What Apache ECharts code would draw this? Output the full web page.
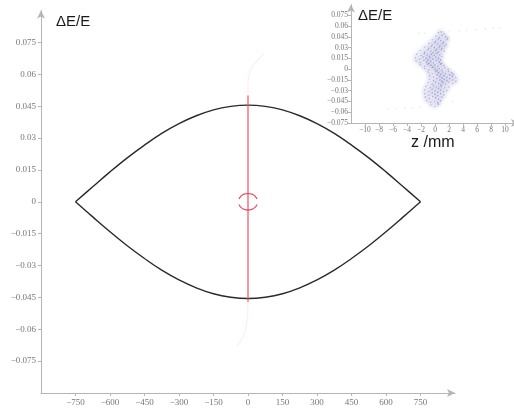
<!DOCTYPE html>
<html><head><meta charset="utf-8">
<script src="https://cdn.jsdelivr.net/npm/echarts@6/dist/echarts.min.js"></script>
<style>html,body{margin:0;padding:0;background:#fff}#c{width:514px;height:408px}</style>
</head><body><div id="c"></div><script>
// ---- tick values and labels ----
const mainXTicks = [-750,-600,-450,-300,-150,0,150,300,450,600,750];
const mainXLabels = ['−750','−600','−450','−300','−150','0','150','300','450','600','750'];
const yTicks = [-0.075,-0.06,-0.045,-0.03,-0.015,0,0.015,0.03,0.045,0.06,0.075];
const yLabels = ['−0.075','−0.06','−0.045','−0.03','−0.015','0','0.015','0.03','0.045','0.06','0.075'];
const insetXTicks = [-10,-8,-6,-4,-2,0,2,4,6,8,10];
const insetXLabels = ['−10','−8','−6','−4','−2','0','2','4','6','8','10'];

// ---- separatrix ----
const sepZ = [-750,-675,-600,-525,-450,-375,-300,-225,-150,-75,0,75,150,225,300,375,450,525,600,675,750];
const sepUpper = [0,0.0071,0.0141,0.0207,0.0267,0.0322,0.0368,0.0405,0.0433,0.0449,0.0455,0.0449,0.0433,0.0405,0.0368,0.0322,0.0267,0.0207,0.0141,0.0071,0];
const sepLower = [0,-0.0071,-0.0141,-0.0207,-0.0267,-0.0322,-0.0368,-0.0405,-0.0433,-0.0449,-0.0455,-0.0449,-0.0433,-0.0405,-0.0368,-0.0322,-0.0267,-0.0207,-0.0141,-0.0071,0];

// ---- red particle streak in main plot ----
const streakZ = [0,0];
const streakD = [0.050,-0.047];
const streakFaintZ = [70,45,20,5,0,0,0,-3,-15,-48];
const streakFaintD = [0.070,0.067,0.064,0.060,0.056,0.050,-0.047,-0.055,-0.062,-0.068];
// small ring around origin (upper and lower arcs)
const ringUpZ = [39,32,21,7,0,-7,-21,-32,-39];
const ringUpD = [0.0013,0.0025,0.0034,0.0038,0.0039,0.0038,0.0034,0.0025,0.0013];
const ringLoZ = [39,32,21,7,0,-7,-21,-32,-39];
const ringLoD = [-0.0013,-0.0025,-0.0034,-0.0038,-0.0039,-0.0038,-0.0034,-0.0025,-0.0013];

// ---- inset particle cloud (z in mm, dE/E) ----
const cloud = [
[0.5,0.051],[1.3,0.049],[0.9,0.052],
[0.1,0.046],[0.6,0.044],[1.0,0.047],[1.5,0.045],[1.8,0.043],
[-0.4,0.041],[0.1,0.039],[0.5,0.042],[0.8,0.040],[1.2,0.038],[1.7,0.041],
[-0.9,0.036],[-0.4,0.034],[0.0,0.037],[0.4,0.035],[0.7,0.033],[1.1,0.036],[1.6,0.034],
[-1.5,0.031],[-0.9,0.029],[-0.5,0.032],[-0.1,0.030],[0.2,0.028],[0.6,0.031],[1.0,0.029],[1.4,0.032],
[-2.1,0.026],[-1.5,0.024],[-1.0,0.027],[-0.6,0.025],[-0.3,0.023],[0.1,0.026],[0.5,0.024],[0.9,0.027],[1.3,0.025],
[-2.6,0.021],[-2.0,0.019],[-1.5,0.022],[-1.1,0.020],[-0.8,0.018],[-0.5,0.021],[-0.1,0.019],[0.3,0.022],[0.7,0.020],[1.0,0.018],
[-2.8,0.016],[-2.2,0.014],[-1.7,0.017],[-1.3,0.015],[-1.0,0.013],[-0.7,0.016],[-0.3,0.014],[0.1,0.017],[0.5,0.015],[0.8,0.013],
[-2.7,0.011],[-2.1,0.009],[-1.6,0.012],[-1.2,0.010],[-0.9,0.008],[-0.6,0.011],[-0.2,0.009],[0.2,0.012],[0.6,0.010],[0.9,0.008],
[-2.1,0.006],[-1.5,0.004],[-1.0,0.007],[-0.6,0.005],[-0.3,0.003],[0.0,0.006],[0.4,0.004],[0.8,0.007],[1.3,0.005],
[-1.5,0.001],[-0.9,-0.001],[-0.4,0.002],[0.0,0.000],[0.3,-0.002],[0.6,0.001],[1.0,-0.001],[1.4,0.002],[1.9,0.000],
[-1.0,-0.004],[-0.4,-0.006],[0.1,-0.003],[0.5,-0.005],[0.8,-0.007],[1.1,-0.004],[1.5,-0.006],[1.9,-0.003],[2.4,-0.005],[2.6,-0.007],
[-0.8,-0.009],[-0.2,-0.011],[0.3,-0.008],[0.7,-0.010],[1.0,-0.012],[1.3,-0.009],[1.7,-0.011],[2.1,-0.008],[2.5,-0.010],[3.0,-0.012],
[-0.8,-0.014],[-0.2,-0.016],[0.3,-0.013],[0.7,-0.015],[1.0,-0.017],[1.3,-0.014],[1.7,-0.016],[2.1,-0.013],[2.5,-0.015],[3.0,-0.017],
[-1.0,-0.019],[-0.4,-0.021],[0.1,-0.018],[0.5,-0.020],[0.8,-0.022],[1.1,-0.019],[1.5,-0.021],[1.9,-0.018],[2.5,-0.020],
[-1.3,-0.024],[-0.7,-0.026],[-0.2,-0.023],[0.2,-0.025],[0.5,-0.027],[0.9,-0.024],[1.4,-0.026],[2.0,-0.025],
[-1.5,-0.029],[-0.9,-0.031],[-0.4,-0.028],[0.0,-0.030],[0.4,-0.032],[0.8,-0.029],[1.2,-0.031],[1.7,-0.030],
[-1.5,-0.034],[-0.9,-0.036],[-0.4,-0.033],[0.0,-0.035],[0.4,-0.037],[0.8,-0.034],[1.3,-0.036],
[-1.4,-0.039],[-0.8,-0.041],[-0.3,-0.038],[0.1,-0.040],[0.5,-0.042],[1.0,-0.039],
[-1.2,-0.044],[-0.6,-0.046],[-0.1,-0.045],[0.4,-0.047],[0.8,-0.044],
[-0.6,-0.050],[0.0,-0.052],[0.5,-0.049]
];
const cloudTails = [
[-2.3,0.050],[-1.5,0.050],[2.0,0.052],[3.5,0.053],[4.5,0.054],[5.8,0.055],[7.2,0.056],[8.3,0.057],[9.2,0.058],
[-6.8,-0.055],[-5.5,-0.055],[-4.3,-0.054],[-3.2,-0.054],[-2.2,-0.053],[2.5,-0.045]
];

function pick(ticks, labels) {
  return function (v) {
    const i = ticks.findIndex(t => Math.abs(t - v) < 1e-9);
    return i >= 0 ? labels[i] : '';
  };
}
const zip = (a, b) => a.map((v, i) => [v, b[i]]);

const axisCol = '#b5b5b5';
const lblCol = '#777';
const serif = 'Liberation Serif';

function mkAxis(idx, min, max, ticks, labels, fs, margin) {
  return {
    type: 'value', gridIndex: idx, min: min, max: max,
    axisLine: {onZero: false, lineStyle: {color: axisCol, width: 1}, symbol: ['none', 'arrow'], symbolSize: [6, 8]},
    axisTick: {customValues: ticks, length: 3, lineStyle: {color: axisCol}},
    axisLabel: {customValues: ticks, formatter: pick(ticks, labels), color: lblCol, fontFamily: serif, fontSize: fs, margin: margin},
    splitLine: {show: false}
  };
}

const chart = echarts.init(document.getElementById('c'), null, {renderer: 'canvas'});
chart.setOption({
  animation: false,
  backgroundColor: '#fff',
  grid: [
    {left: 41, right: 59, top: 10.6, bottom: 15, outerBoundsMode: 'none'},
    {left: 351, width: 168, top: 4.6, bottom: 285, outerBoundsMode: 'none'}
  ],
  xAxis: [
    mkAxis(0, -900, 900, mainXTicks, mainXLabels, 9, 5),
    mkAxis(1, -12, 12, insetXTicks, insetXLabels, 7.5, 3)
  ],
  yAxis: [
    mkAxis(0, -0.09, 0.09, yTicks, yLabels, 9, 5),
    mkAxis(1, -0.075, 0.09, yTicks, yLabels, 7.5, 3)
  ],
  series: [
    {type: 'line', xAxisIndex: 0, yAxisIndex: 0, data: zip(sepZ, sepUpper), smooth: 0.4, showSymbol: false,
     lineStyle: {color: '#2a2a2a', width: 1.4}},
    {type: 'line', xAxisIndex: 0, yAxisIndex: 0, data: zip(sepZ, sepLower), smooth: 0.4, showSymbol: false,
     lineStyle: {color: '#2a2a2a', width: 1.4}},
    {type: 'line', xAxisIndex: 0, yAxisIndex: 0, data: zip(streakFaintZ, streakFaintD), smooth: 0.3, showSymbol: false,
     lineStyle: {color: 'rgba(235,90,110,0.10)', width: 1.2}},
    {type: 'line', xAxisIndex: 0, yAxisIndex: 0, data: zip(streakZ, streakD), showSymbol: false,
     lineStyle: {color: 'rgba(240,70,95,0.55)', width: 2}},
    {type: 'line', xAxisIndex: 0, yAxisIndex: 0, data: zip(ringUpZ, ringUpD), smooth: 0.5, showSymbol: false,
     lineStyle: {color: 'rgba(225,50,70,0.85)', width: 1.2}},
    {type: 'line', xAxisIndex: 0, yAxisIndex: 0, data: zip(ringLoZ, ringLoD), smooth: 0.5, showSymbol: false,
     lineStyle: {color: 'rgba(225,50,70,0.85)', width: 1.2}},
    {type: 'scatter', xAxisIndex: 1, yAxisIndex: 1, data: cloud, symbolSize: 7,
     itemStyle: {color: 'rgba(100,100,190,0.07)'}},
    {type: 'scatter', xAxisIndex: 1, yAxisIndex: 1, data: cloud, symbolSize: 1.6,
     itemStyle: {color: 'rgba(70,70,170,0.45)'}},
    {type: 'scatter', xAxisIndex: 1, yAxisIndex: 1, data: cloudTails, symbolSize: 1.4,
     itemStyle: {color: 'rgba(110,110,190,0.25)'}}
  ],
  graphic: [
    {type: 'text', left: 56, top: 14, style: {text: 'ΔE/E', font: '15px "Liberation Sans"', fill: '#1a1a1a'}},
    {type: 'text', left: 358, top: 8, style: {text: 'ΔE/E', font: '15px "Liberation Sans"', fill: '#1a1a1a'}},
    {type: 'text', left: 411, top: 135, style: {text: 'z /mm', font: '16px "Liberation Sans"', fill: '#1a1a1a'}}
  ]
});
</script></body></html>
